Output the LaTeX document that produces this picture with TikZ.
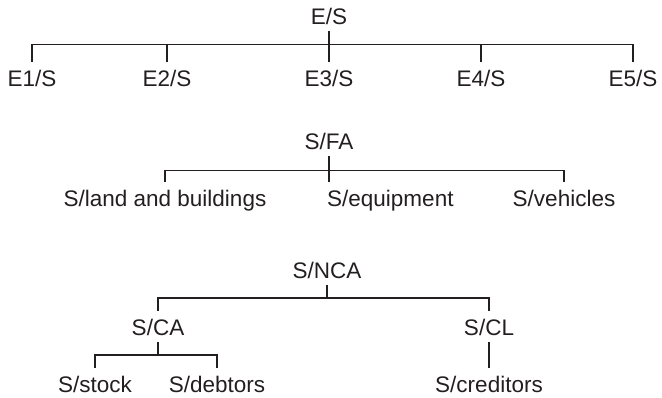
\documentclass[tikz,border=0pt]{standalone}
\usepackage{fontspec}
\setmainfont{Liberation Sans}
\definecolor{ink}{HTML}{231F20}
\begin{document}
\begin{tikzpicture}[x=1pt,y=-1pt,
  lbl/.style={anchor=base, inner xsep=0pt, inner ysep=7pt, text height=17pt, text depth=0pt,
    font=\fontsize{22.5}{27}\selectfont, text=ink},
  conn/.style={draw=ink, line width=1.1pt}]
\useasboundingbox (0,0) rectangle (662,397);
% section 1
\node[lbl] (ES) at (329,24) {E/S};
\node[lbl] (E1) at (32,86) {E1/S};
\node[lbl] (E2) at (167,86) {E2/S};
\node[lbl] (E3) at (329,86) {E3/S};
\node[lbl] (E4) at (481,86) {E4/S};
\node[lbl] (E5) at (633,86) {E5/S};
\coordinate (b1) at (329,44.5);
\draw[conn] (ES.south) -- (b1);
\draw[conn] (E1.north) |- (b1);
\draw[conn] (E5.north) |- (b1);
\draw[conn] (E2.north) -- (E2.north |- b1);
\draw[conn] (E3.north) -- (b1);
\draw[conn] (E4.north) -- (E4.north |- b1);
% section 2
\node[lbl] (SFA) at (329,149) {S/FA};
\node[lbl] (Land) at (165,206) {S/land and buildings};
\node[lbl, anchor=base west] (Seq) at (327,206) {S/equipment};
\node[lbl] (Veh) at (564,206) {S/vehicles};
\coordinate (b2) at (329,170.7);
\draw[conn] (SFA.south) -- (b2);
\draw[conn] (Land.north) |- (b2);
\draw[conn] (Veh.north) |- (b2);
\draw[conn] (b2) -- (b2 |- Seq.north);
% section 3
\node[lbl] (NCA) at (327,278) {S/NCA};
\node[lbl] (CA) at (158,335) {S/CA};
\node[lbl] (CL) at (489,335) {S/CL};
\coordinate (b3) at (327,298);
\draw[conn] (NCA.south) -- (b3);
\draw[conn] (CA.north) |- (b3);
\draw[conn] (CL.north) |- (b3);
\node[lbl] (Stock) at (95,392) {S/stock};
\node[lbl] (Debt) at (217,392) {S/debtors};
\node[lbl] (Cred) at (489,392) {S/creditors};
\coordinate (b4) at (158,355);
\draw[conn] (CA.south) -- (b4);
\draw[conn] (Stock.north) |- (b4);
\draw[conn] (Debt.north) |- (b4);
\draw[conn] (CL.south) -- (Cred.north);
\end{tikzpicture}
\end{document}
